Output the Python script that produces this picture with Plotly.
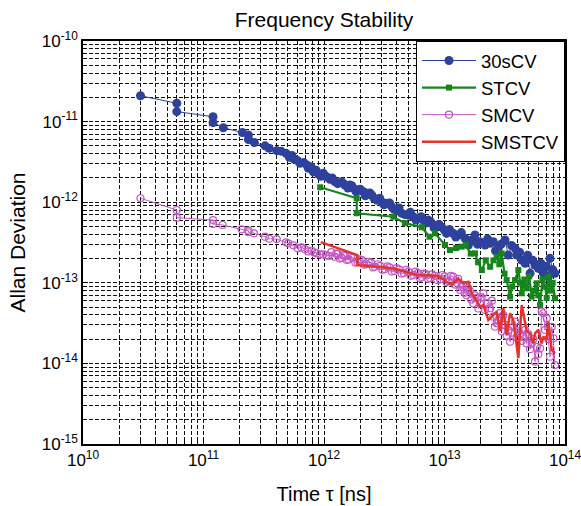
import plotly.graph_objects as go

# ---- data ----
tau_30s = [3.0e10, 6.0e10, 6.0e10, 1.2e11, 1.2e11, 1.46e11, 2.1e11, 2.36e11, 2.36e11, 2.64e11,
           3.24e11, 3.5e11, 4.05e11, 4.4e11, 4.84e11, 5.15e11, 5.4e11, 5.64e11, 6.0e11, 6.32e11,
           6.8e11, 7.18e11, 7.41e11, 7.8e11, 8.15e11, 8.6e11, 8.97e11, 9.4e11, 9.87e11, 1.02e12,
           1.06e12, 1.12e12, 1.17e12, 1.23e12, 1.3e12, 1.40e12, 1.45e12, 1.49e12, 1.58e12, 1.64e12,
           1.7e12, 1.75e12, 1.85e12, 1.93e12, 2.0e12, 2.12e12, 2.2e12, 2.26e12, 2.4e12, 2.49e12,
           2.6e12, 2.74e12, 2.9e12, 3.01e12, 3.15e12, 3.31e12, 3.5e12, 3.65e12, 3.8e12, 4.01e12,
           4.2e12, 4.41e12, 4.7e12, 5.01e12, 5.2e12, 5.51e12, 5.8e12, 6.07e12, 6.4e12, 6.67e12,
           7.0e12, 7.34e12, 7.6e12, 7.83e12, 8.2e12, 8.61e12, 9.0e12, 9.48e12, 1.0e13, 1.04e13,
           1.1e13, 1.18e13, 1.24e13, 1.30e13, 1.38e13, 1.48e13, 1.58e13, 1.68e13, 1.79e13, 1.88e13,
           1.97e13, 2.17e13, 2.28e13, 2.39e13, 2.54e13, 2.65e13, 2.79e13, 2.95e13, 3.18e13, 3.38e13,
           3.6e13, 3.85e13, 3.97e13, 4.2e13, 4.37e13, 4.66e13, 4.9e13, 5.13e13, 5.4e13, 5.64e13,
           6.00e13, 6.3e13, 6.61e13, 7.0e13, 7.27e13, 7.51e13, 7.9e13, 8.26e13]
adev_30s = [2.09e-11, 1.69e-11, 1.33e-11, 1.15e-11, 9.7e-12, 8.4e-12, 7.3e-12, 6.8e-12, 6.0e-12, 5.5e-12,
            5.0e-12, 4.67e-12, 4.36e-12, 4.3e-12, 4.04e-12, 3.61e-12, 3.8e-12, 3.44e-12, 3.3e-12, 3.04e-12,
            3.1e-12, 2.90e-12, 2.64e-12, 2.75e-12, 2.39e-12, 2.5e-12, 2.24e-12, 2.1e-12, 2.28e-12, 2.11e-12,
            2.05e-12, 1.92e-12, 2.0e-12, 1.80e-12, 1.7e-12, 1.80e-12, 1.7e-12, 1.63e-12, 1.5e-12, 1.63e-12,
            1.6e-12, 1.49e-12, 1.35e-12, 1.42e-12, 1.45e-12, 1.35e-12, 1.2e-12, 1.29e-12, 1.3e-12, 1.23e-12,
            1.12e-12, 1.06e-12, 1.12e-12, 1.01e-12, 9.3e-13, 9.7e-13, 9.8e-13, 8.8e-13, 8.2e-13, 8.0e-13,
            8.5e-13, 7.3e-13, 7.0e-13, 6.9e-13, 7.5e-13, 6.6e-13, 6.0e-13, 6.3e-13, 6.6e-13, 6.0e-13,
            5.5e-13, 6.0e-13, 5.8e-13, 5.5e-13, 4.8e-13, 5.0e-13, 5.3e-13, 4.9e-13, 4.5e-13, 4.1e-13,
            4.6e-13, 4.11e-13, 3.7e-13, 3.92e-13, 4.2e-13, 3.56e-13, 2.94e-13, 3.4e-13, 3.92e-13, 3.0e-13,
            3.24e-13, 2.94e-13, 3.5e-13, 3.09e-13, 3.24e-13, 2.5e-13, 2.68e-13, 3.0e-13, 3.40e-13, 2.21e-13,
            2.9e-13, 2.68e-13, 2.21e-13, 2.4e-13, 1.92e-13, 1.75e-13, 2.2e-13, 1.31e-13, 1.9e-13, 1.66e-13,
            1.51e-13, 1.75e-13, 1.31e-13, 1.6e-13, 1.19e-13, 2.01e-13, 1.45e-13, 1.31e-13]

tau_st = [9.3e11, 1.87e12, 1.87e12, 3.76e12, 4.70e12, 6.47e12, 7.5e12, 8.34e12, 1.01e13, 1.11e13,
          1.25e13, 1.39e13, 1.5e13, 1.65e13, 1.79e13, 1.9e13, 2.04e13, 2.2e13, 2.39e13, 2.55e13,
          2.71e13, 2.85e13, 2.98e13, 3.15e13, 3.28e13, 3.50e13, 3.65e13, 3.85e13, 4.10e13, 4.25e13,
          4.37e13, 4.6e13, 4.81e13, 5.05e13, 5.29e13, 5.55e13, 5.82e13, 6.0e13, 6.21e13, 6.5e13,
          6.83e13, 7.05e13, 7.27e13, 7.6e13, 7.9e13, 8.26e13]
adev_st = [1.53e-12, 1.12e-12, 7.3e-13, 6.6e-13, 5.5e-13, 4.89e-13, 3.73e-13, 4.11e-13, 2.94e-13, 2.55e-13,
           2.7e-13, 2.81e-13, 2.94e-13, 2.3e-13, 2.32e-13, 1.8e-13, 1.44e-13, 1.9e-13, 1.58e-13, 1.9e-13,
           2.11e-13, 1.7e-13, 2.32e-13, 1.3e-13, 1.08e-13, 6.73e-14, 9.0e-14, 1.08e-13, 1.44e-13, 1.0e-13,
           7.41e-14, 1.1e-13, 8.55e-14, 1.2e-13, 6.73e-14, 8.0e-14, 9.86e-14, 7.0e-14, 5.31e-14, 1.1e-13,
           8.95e-14, 6.5e-14, 1.19e-13, 8.0e-14, 1.0e-13, 6.43e-14]

tau_sm = [3.0e10, 6.0e10, 6.0e10, 1.2e11, 1.2e11, 1.44e11, 2.07e11, 2.36e11, 2.36e11, 2.62e11,
          3.24e11, 3.51e11, 4.05e11, 4.84e11, 5.06e11, 5.56e11, 6.05e11, 6.5e11, 6.95e11, 7.4e11,
          7.90e11, 8.3e11, 8.69e11, 9.3e11, 9.87e11, 1.04e12, 1.09e12, 1.15e12, 1.22e12, 1.26e12,
          1.30e12, 1.35e12, 1.40e12, 1.45e12, 1.50e12, 1.55e12, 1.60e12, 1.68e12, 1.75e12, 1.82e12,
          1.90e12, 1.97e12, 2.05e12, 2.15e12, 2.25e12, 2.35e12, 2.45e12, 2.55e12, 2.65e12, 2.8e12,
          2.92e12, 3.05e12, 3.2e12, 3.35e12, 3.5e12, 3.65e12, 3.85e12, 4.0e12, 4.2e12, 4.4e12,
          4.6e12, 4.8e12, 5.0e12, 5.25e12, 5.5e12, 5.75e12, 6.0e12, 6.25e12, 6.5e12, 6.75e12,
          7.0e12, 7.3e12, 7.6e12, 7.9e12, 8.3e12, 8.7e12, 9.2e12, 9.6e12, 1.0e13, 1.04e13,
          1.08e13, 1.13e13, 1.18e13, 1.22e13, 1.26e13, 1.3e13, 1.35e13, 1.39e13, 1.43e13, 1.47e13,
          1.52e13, 1.57e13, 1.62e13, 1.67e13, 1.73e13, 1.79e13, 1.85e13, 1.91e13, 1.97e13, 2.03e13,
          2.10e13, 2.17e13, 2.28e13, 2.39e13, 2.47e13, 2.54e13, 2.62e13, 2.71e13, 2.79e13, 2.88e13,
          2.98e13, 3.08e13, 3.18e13, 3.28e13, 3.39e13, 3.50e13, 3.61e13, 3.72e13, 3.85e13, 3.97e13,
          4.1e13, 4.23e13, 4.37e13, 4.51e13, 4.66e13, 4.81e13, 4.97e13, 5.13e13, 5.3e13, 5.46e13,
          5.64e13, 5.82e13, 6.00e13, 6.21e13, 6.41e13, 6.61e13, 6.83e13, 7.05e13, 7.27e13, 7.51e13,
          7.76e13, 8.00e13, 8.26e13]
adev_sm = [1.12e-12, 8.0e-13, 6.43e-13, 6.0e-13, 5.37e-13, 5.21e-13, 4.61e-13, 4.43e-13, 4.24e-13, 4.11e-13,
           3.73e-13, 3.52e-13, 3.49e-13, 3.18e-13, 3.09e-13, 2.92e-13, 2.68e-13, 2.75e-13, 2.61e-13, 2.45e-13,
           2.50e-13, 2.38e-13, 2.32e-13, 2.25e-13, 2.26e-13, 2.2e-13, 2.15e-13, 2.40e-13, 2.10e-13, 2.3e-13,
           2.28e-13, 2.0e-13, 2.05e-13, 2.2e-13, 2.15e-13, 1.92e-13, 1.95e-13, 2.1e-13, 2.05e-13, 1.78e-13,
           1.80e-13, 1.95e-13, 1.92e-13, 1.68e-13, 1.70e-13, 1.82e-13, 1.78e-13, 1.55e-13, 1.58e-13, 1.7e-13,
           1.62e-13, 1.45e-13, 1.48e-13, 1.6e-13, 1.55e-13, 1.38e-13, 1.40e-13, 1.52e-13, 1.47e-13, 1.3e-13,
           1.32e-13, 1.45e-13, 1.38e-13, 1.22e-13, 1.25e-13, 1.38e-13, 1.32e-13, 1.15e-13, 1.18e-13, 1.3e-13,
           1.28e-13, 1.12e-13, 1.15e-13, 1.27e-13, 1.22e-13, 1.08e-13, 1.10e-13, 1.25e-13, 1.20e-13, 1.02e-13,
           1.05e-13, 1.22e-13, 1.19e-13, 9.5e-14, 1.00e-13, 1.12e-13, 8.15e-14, 8.8e-14, 9.4e-14, 7.5e-14,
           7.0e-14, 8.6e-14, 8.0e-14, 6.2e-14, 5.57e-14, 7.0e-14, 6.5e-14, 4.8e-14, 5.5e-14, 6.6e-14,
           7.41e-14, 4.6e-14, 5.6e-14, 4.83e-14, 6.0e-14, 3.8e-14, 2.85e-14, 3.14e-14, 3.45e-14, 4.2e-14,
           2.5e-14, 3.98e-14, 3.0e-14, 2.2e-14, 2.6e-14, 1.86e-14, 2.4e-14, 2.85e-14, 3.3e-14, 2.1e-14,
           2.5e-14, 2.36e-14, 1.9e-14, 2.14e-14, 2.6e-14, 1.77e-14, 2.3e-14, 1.5e-14, 1.75e-14, 2.0e-14,
           1.05e-14, 1.6e-14, 1.3e-14, 1.54e-14, 4.38e-14, 4.19e-14, 2.6e-14, 3.62e-14, 2.0e-14, 1.21e-14,
           2.85e-14, 2.05e-14, 9.55e-15]

tau_smst = [9.4e11, 1.89e12, 1.89e12, 3.76e12, 5.88e12, 8.8e12, 1.04e13, 1.15e13, 1.30e13, 1.43e13,
            1.58e13, 1.68e13, 1.80e13, 1.97e13, 2.10e13, 2.31e13, 2.46e13, 2.71e13, 2.89e13, 3.08e13,
            3.28e13, 3.50e13, 3.72e13, 4.10e13, 4.37e13, 4.81e13, 5.13e13, 5.46e13, 5.64e13, 6.00e13,
            6.41e13, 6.61e13, 7.05e13, 7.27e13, 7.76e13, 8.26e13]
adev_smst = [3.2e-13, 2.21e-13, 1.66e-13, 1.51e-13, 1.25e-13, 1.22e-13, 1.03e-13, 9.4e-14, 1.14e-13, 9.86e-14,
             1.03e-13, 7.41e-14, 6.43e-14, 5.05e-14, 5.3e-14, 3.45e-14, 3.79e-14, 4.4e-14, 2.5e-14, 4.83e-14,
             2.25e-14, 4.19e-14, 3.45e-14, 1.16e-14, 5.3e-14, 2.5e-14, 2.36e-14, 1.77e-14, 2.36e-14, 2.6e-14,
             1.77e-14, 2.14e-14, 1.95e-14, 3.29e-14, 1.47e-14, 1.33e-14]

x_tickvals = [1e10, 1e11, 1e12, 1e13, 1e14]
x_ticktext = ["10<sup>10</sup>", "10<sup>11</sup>", "10<sup>12</sup>", "10<sup>13</sup>", "10<sup>14</sup>"]
y_tickvals = [1e-15, 1e-14, 1e-13, 1e-12, 1e-11, 1e-10]
y_ticktext = ["10<sup>-15</sup>", "10<sup>-14</sup>", "10<sup>-13</sup>", "10<sup>-12</sup>",
              "10<sup>-11</sup>", "10<sup>-10</sup>"]

FONT = "Liberation Sans, Arial, Helvetica, sans-serif"
DASH = "4px,2px"
GRID = "#111111"

FIG_W, FIG_H = 581, 506

fig = go.Figure()
fig.add_trace(go.Scatter(x=tau_30s, y=adev_30s, name="30sCV", mode="lines+markers",
                         line=dict(color="#2d419d", width=1),
                         marker=dict(symbol="circle", size=9, color="#2d419d")))
fig.add_trace(go.Scatter(x=tau_st, y=adev_st, name="STCV", mode="lines+markers",
                         line=dict(color="#15861a", width=2.2),
                         marker=dict(symbol="square", size=6, color="#15861a")))
fig.add_trace(go.Scatter(x=tau_sm, y=adev_sm, name="SMCV", mode="lines+markers",
                         line=dict(color="#c456c4", width=1),
                         marker=dict(symbol="circle-open", size=7, color="#c456c4",
                                     line=dict(width=1.2))))
fig.add_trace(go.Scatter(x=tau_smst, y=adev_smst, name="SMSTCV", mode="lines",
                         line=dict(color="#e4332a", width=2.5)))

axis_common = dict(
    type="log", showline=True, linecolor="black", linewidth=1.5, mirror=True,
    ticks="inside", ticklen=5, tickcolor="black", automargin=False,
    ticklabeloverflow="allow",
    showgrid=True, gridcolor=GRID, gridwidth=1, griddash=DASH,
    zeroline=False,
    tickfont=dict(family=FONT, size=17, color="black"),
    minor=dict(dtick="D1", showgrid=True, gridcolor=GRID, gridwidth=1,
               griddash=DASH, ticks="inside", ticklen=3, tickcolor="black"),
)

fig.update_xaxes(range=[10, 14], tickvals=x_tickvals, ticktext=x_ticktext,
                 title=dict(text="Time τ [ns]", font=dict(family=FONT, size=20, color="black"),
                            standoff=18),
                 **axis_common)
fig.update_yaxes(range=[-15, -10], tickvals=y_tickvals, ticktext=y_ticktext,
                 title=dict(text="Allan Deviation", font=dict(family=FONT, size=21, color="black"),
                            standoff=10),
                 **axis_common)

fig.update_layout(
    width=FIG_W, height=FIG_H,
    margin=dict(l=83, r=16, t=41, b=62),
    paper_bgcolor="white", plot_bgcolor="white",
    font=dict(family=FONT, size=18, color="black"),
    title=dict(text="Frequency Stability", x=0.5, xref="paper", xanchor="center",
               y=1 - 20 / FIG_H, yref="container", yanchor="middle",
               font=dict(family=FONT, size=21, color="black")),
    legend=dict(x=1, xanchor="right", y=1, yanchor="top", xref="paper", yref="paper",
                bgcolor="white", bordercolor="black", borderwidth=1,
                font=dict(family=FONT, size=18.5, color="black"),
                itemwidth=54, tracegroupgap=0),
    showlegend=True,
)

# remove the default 8px page margin so the figure sits at the window origin
fig.write_html("out.html",
               config={"displayModeBar": False},
               post_script="document.body.style.margin='0px';document.body.style.overflow='hidden';")
